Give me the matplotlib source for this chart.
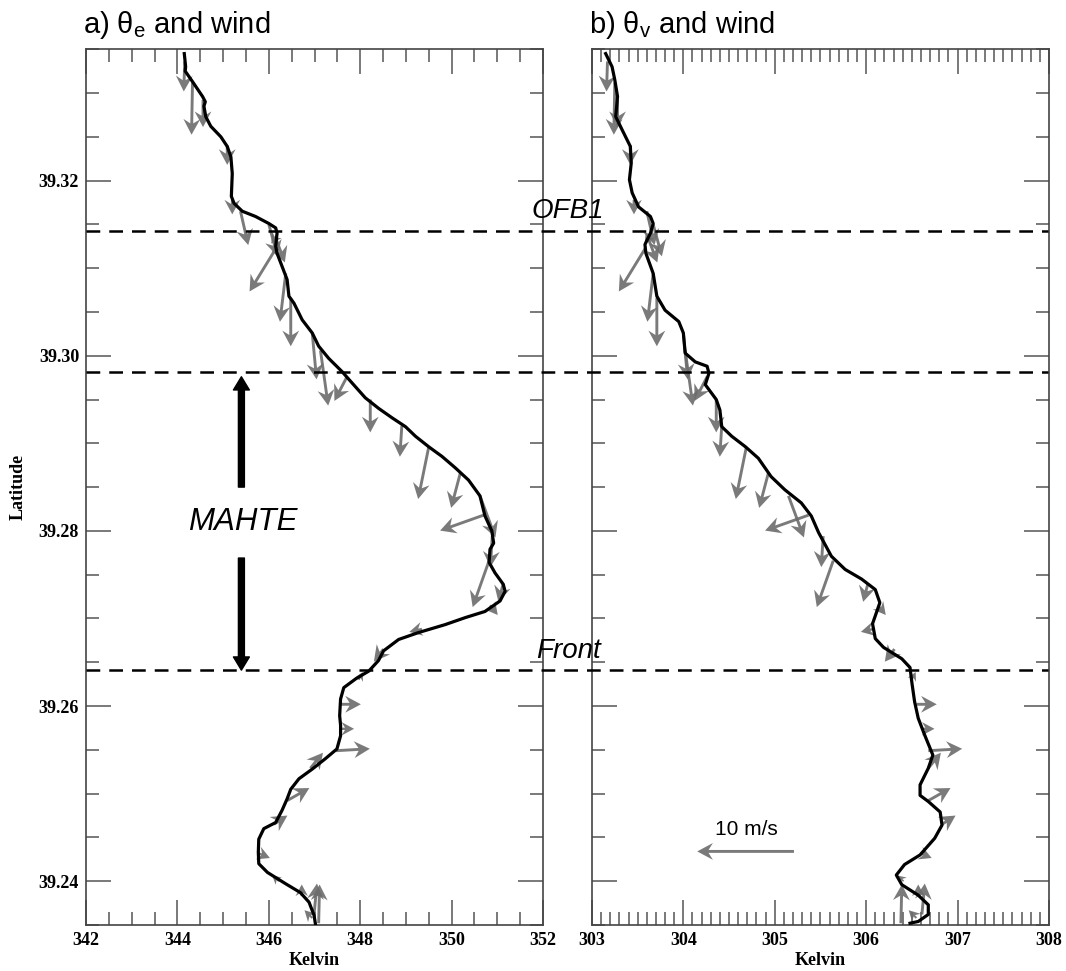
import numpy as np
import matplotlib.pyplot as plt
import matplotlib.transforms as mtransforms
from matplotlib.lines import Line2D
from matplotlib.ticker import MultipleLocator, FormatStrFormatter

plt.rcParams["font.family"] = ["Liberation Sans", "DejaVu Sans"]
plt.rcParams["mathtext.fontset"] = "custom"
plt.rcParams["mathtext.rm"] = "Liberation Sans"

# ---- theta_e profile (K) vs latitude ----
lat_e = [39.3345, 39.3330, 39.3325, 39.3313, 39.3296, 39.3290, 39.3285, 39.3273, 39.3262, 39.3250,
         39.3239, 39.3227, 39.3208, 39.3182, 39.3174, 39.3165, 39.3159, 39.3151, 39.3146, 39.3140,
         39.3125, 39.3117, 39.3102, 39.3087, 39.3068, 39.3060, 39.3041, 39.3026, 39.3011, 39.2997,
         39.2982, 39.2969, 39.2952, 39.2940, 39.2929, 39.2919, 39.2908, 39.2896, 39.2885, 39.2872,
         39.2858, 39.2840, 39.2817, 39.2800, 39.2786, 39.2779, 39.2764, 39.2752, 39.2739, 39.2731,
         39.2720, 39.2708, 39.2701, 39.2693, 39.2684, 39.2676, 39.2663, 39.2652, 39.2640, 39.2631,
         39.2621, 39.2608, 39.2589, 39.2578, 39.2566, 39.2551, 39.2540, 39.2528, 39.2517, 39.2505,
         39.2494, 39.2481, 39.2467, 39.2460, 39.2448, 39.2433, 39.2420, 39.2410, 39.2397, 39.2387,
         39.2376, 39.2361, 39.2351]
theta_e = [344.15, 344.18, 344.17, 344.33, 344.55, 344.61, 344.58, 344.62, 344.73, 344.95,
           345.09, 345.17, 345.20, 345.18, 345.24, 345.42, 345.71, 346.00, 346.15, 346.18,
           346.15, 346.18, 346.29, 346.40, 346.44, 346.55, 346.73, 346.95, 347.09, 347.31,
           347.60, 347.82, 348.11, 348.40, 348.70, 348.99, 349.21, 349.50, 349.79, 350.08,
           350.37, 350.62, 350.73, 350.88, 350.92, 350.84, 350.82, 350.95, 351.13, 351.17,
           351.06, 350.73, 350.30, 349.86, 349.28, 348.84, 348.51, 348.40, 348.19, 347.90,
           347.64, 347.57, 347.55, 347.57, 347.57, 347.49, 347.24, 346.95, 346.66, 346.48,
           346.40, 346.29, 346.15, 345.89, 345.78, 345.77, 345.78, 345.97, 346.37, 346.69,
           346.88, 346.99, 347.02]

# ---- theta_v profile (K) vs latitude ----
lat_v = [39.3345, 39.3330, 39.3315, 39.3296, 39.3273, 39.3258, 39.3239, 39.3220, 39.3201, 39.3186,
         39.3170, 39.3159, 39.3151, 39.3140, 39.3127, 39.3117, 39.3094, 39.3068, 39.3052, 39.3039,
         39.3026, 39.3003, 39.2993, 39.2988, 39.2980, 39.2967, 39.2950, 39.2938, 39.2919, 39.2908,
         39.2896, 39.2883, 39.2862, 39.2847, 39.2832, 39.2817, 39.2798, 39.2771, 39.2756, 39.2745,
         39.2733, 39.2718, 39.2703, 39.2694, 39.2677, 39.2667, 39.2654, 39.2644, 39.2627, 39.2605,
         39.2586, 39.2567, 39.2544, 39.2529, 39.2510, 39.2498, 39.2491, 39.2479, 39.2464, 39.2449,
         39.2430, 39.2419, 39.2407, 39.2396, 39.2384, 39.2373, 39.2362, 39.2354, 39.2352]
theta_v = [303.15, 303.22, 303.25, 303.28, 303.26, 303.33, 303.42, 303.43, 303.41, 303.44,
           303.51, 303.64, 303.67, 303.64, 303.58, 303.59, 303.67, 303.71, 303.80, 303.95,
           304.00, 304.02, 304.13, 304.26, 304.28, 304.24, 304.36, 304.40, 304.42, 304.53,
           304.68, 304.82, 304.96, 305.11, 305.29, 305.40, 305.48, 305.62, 305.77, 305.95,
           306.10, 306.15, 306.10, 306.07, 306.10, 306.19, 306.39, 306.48, 306.50, 306.53,
           306.57, 306.64, 306.73, 306.68, 306.59, 306.59, 306.68, 306.81, 306.83, 306.75,
           306.59, 306.42, 306.33, 306.39, 306.57, 306.68, 306.68, 306.57, 306.48]

# ---- wind vectors (m/s) and where they start on each profile ----
wind_lat = [39.3336, 39.3312, 39.3292, 39.3240, 39.3178, 39.3165, 39.3150, 39.3138, 39.3133, 39.3122,
            39.3094, 39.3066, 39.3026, 39.3006, 39.2976, 39.2950, 39.2920, 39.2896, 39.2866, 39.2840,
            39.2818, 39.2794, 39.2766, 39.2740, 39.2715, 39.2688, 39.2665, 39.2630, 39.2602, 39.2574,
            39.2549, 39.2529, 39.2492, 39.2465, 39.2432, 39.2400, 39.2383, 39.2362, 39.2358, 39.2352]
wind_u = [-0.1, -0.1, 0.0, 0.0, 0.0, 0.8, 0.9, -0.6, 0.9, -2.7,
          -0.6, 0.0, 0.45, 0.8, -1.3, 0.0, -0.2, -1.1, -0.95, 1.6,
          -4.5, -0.2, -1.7, -0.5, 0.8, -1.3, -1.0, 0.4, 2.1, 1.3,
          3.5, 1.3, 2.3, 1.4, 1.2, -0.7, 0.0, 0.3, -0.8, 0.1]
wind_v = [-3.1, -5.4, -2.8, -2.0, -1.5, -3.5, -3.3, -0.9, -2.4, -4.4,
          -5.0, -5.0, -4.8, -5.7, -2.5, -3.4, -3.2, -5.4, -3.6, -4.3,
          -1.6, -3.2, -4.8, -1.9, -1.0, -0.3, -1.3, 0.8, 0.0, 0.0,
          0.2, 1.6, 1.3, 0.9, -0.5, 0.6, 1.2, 3.2, 0.8, 4.0]
wind_the = [344.16, 344.33, 344.56, 345.09, 345.20, 345.38, 346.00, 346.18, 346.16, 346.15,
            346.37, 346.48, 346.95, 347.13, 347.71, 348.22, 348.91, 349.50, 350.19, 350.62,
            350.70, 350.89, 350.82, 351.13, 350.84, 349.35, 348.51, 347.97, 347.57, 347.59,
            347.47, 346.91, 346.40, 346.11, 345.77, 346.22, 346.72, 346.99, 346.95, 347.09]
wind_thv = [303.17, 303.25, 303.28, 303.42, 303.46, 303.60, 303.67, 303.64, 303.62, 303.58,
            303.67, 303.71, 304.00, 304.02, 304.26, 304.36, 304.42, 304.69, 304.93, 305.15,
            305.37, 305.53, 305.64, 306.02, 306.13, 306.08, 306.31, 306.50, 306.55, 306.61,
            306.68, 306.68, 306.68, 306.83, 306.59, 306.41, 306.57, 306.61, 306.55, 306.38]

# boundaries: OFB1, top of MAHTE, front
line_lats = [39.3142, 39.2981, 39.2641]

fig = plt.figure(figsize=(10.66, 9.71), dpi=100)
ax1 = fig.add_axes([0.0807, 0.0474, 0.4287, 0.9019])
ax2 = fig.add_axes([0.5553, 0.0474, 0.4287, 0.9019])

tick_font = {"family": "Liberation Serif", "weight": "bold", "size": 13}
quiv_kw = dict(angles="uv", scale_units="dots", scale=1 / 9.67, units="dots", width=2.9,
               headwidth=5.8, headlength=5.4, headaxislength=3.9, color="#6c6c6c",
               alpha=0.9, zorder=2)

for ax, xlim, major, minor in [(ax1, (342, 352), 2, 0.5), (ax2, (303, 308), 1, 0.1)]:
    ax.set_xlim(*xlim)
    ax.set_ylim(39.235, 39.335)
    ax.xaxis.set_major_locator(MultipleLocator(major))
    ax.xaxis.set_minor_locator(MultipleLocator(minor))
    ax.yaxis.set_major_locator(MultipleLocator(0.02))
    ax.yaxis.set_minor_locator(MultipleLocator(0.005))
    ax.yaxis.set_major_formatter(FormatStrFormatter("%.2f"))
    ax.tick_params(which="both", direction="in", top=True, right=True, color="#555555", width=1.1)
    ax.tick_params(which="major", length=18, pad=5)
    ax.tick_params(which="minor", length=9.5)
    for lab in ax.get_xticklabels() + ax.get_yticklabels():
        lab.set_fontproperties(tick_font)
    for sp in ax.spines.values():
        sp.set_color("#444444")
        sp.set_linewidth(1.2)
    ax.set_xlabel("Kelvin", fontdict=tick_font, labelpad=2)

ax2.tick_params(labelleft=False)
ax1.set_ylabel("Latitude", fontdict=tick_font, labelpad=9)

# profiles
ax1.plot(theta_e, lat_e, color="black", lw=2.3, zorder=3)
ax2.plot(theta_v, lat_v, color="black", lw=2.3, zorder=3)

# wind arrows
ax1.quiver(wind_the, wind_lat, wind_u, wind_v, **quiv_kw)
ax2.quiver(wind_thv, wind_lat, wind_u, wind_v, **quiv_kw)

# reference arrow
ax2.quiver([305.21], [39.2434], [-10], [0], **quiv_kw)
ax2.text(304.69, 39.2459, "10 m/s", fontsize=15, ha="center", va="center")

# dashed boundaries across both panels
trans = mtransforms.blended_transform_factory(fig.transFigure, ax1.transData)
for la in line_lats:
    fig.add_artist(Line2D([86 / 1066, 1048 / 1066], [la, la], transform=trans, color="black",
                          lw=1.8, linestyle=(0, (5.5, 3.6)), zorder=5))

fig.text(568 / 1066, 1 - 218 / 971, "OFB1", fontsize=20, style="italic", ha="center", va="baseline")
fig.text(569 / 1066, 1 - 658 / 971, "Front", fontsize=20, style="italic", ha="center", va="baseline")

# MAHTE annotation with arrows
ax1.text(345.42, 39.2810, "MAHTE", fontsize=22.5, style="italic", ha="center", va="center")
arrow_kw = dict(facecolor="black", edgecolor="black", width=4.3, headwidth=11.5, headlength=9.5, shrink=0)
ax1.annotate("", xy=(345.40, 39.2976), xytext=(345.40, 39.2850), arrowprops=arrow_kw)
ax1.annotate("", xy=(345.40, 39.2641), xytext=(345.40, 39.2769), arrowprops=arrow_kw)

# panel titles
fig.text(83 / 1066, 1 - 33 / 971, r"a) θ$_\mathregular{e}$ and wind", fontsize=21, ha="left", va="baseline")
fig.text(589 / 1066, 1 - 33 / 971, r"b) θ$_\mathregular{v}$ and wind", fontsize=21, ha="left", va="baseline")

plt.savefig("out.png", dpi=100)
plt.close()
